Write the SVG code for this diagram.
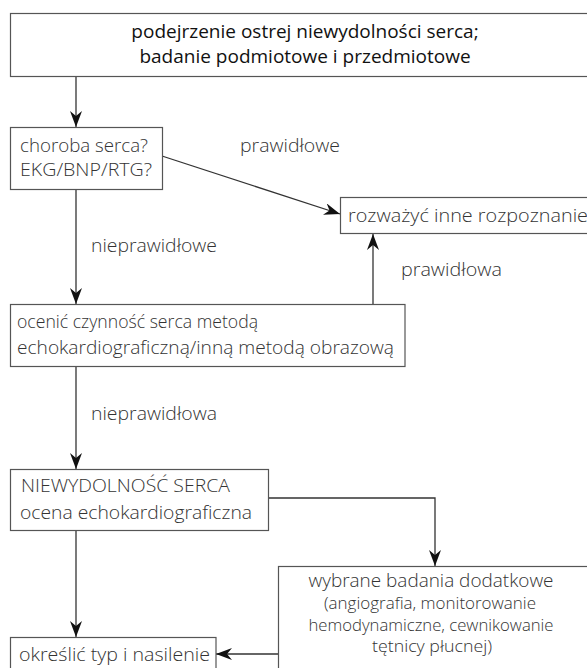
<svg xmlns="http://www.w3.org/2000/svg" width="587" height="668" viewBox="0 0 587 668">
  <style>
    .box { fill: #ffffff; stroke: #555555; stroke-width: 1.2; }
    .t { font-family: "Open Sans", "Liberation Sans", sans-serif; font-size: 18px; font-weight: 350; fill: #333333; }
    .title { font-family: "Open Sans", "Liberation Sans", sans-serif; font-size: 19px; font-weight: 500; fill: #111111; text-anchor: middle; }
    .small { font-size: 16px; }
    .mid { text-anchor: middle; }
    .edge { fill: none; stroke: #333333; stroke-width: 1.3; }
  </style>
  <defs>
    <marker id="arrow" viewBox="0 0 16 12" refX="16" refY="6" markerWidth="16" markerHeight="12" markerUnits="userSpaceOnUse" orient="auto">
      <path d="M0,0 L16,6 L0,12 L5,6 z" fill="#111111"/>
    </marker>
  </defs>
  <rect width="587" height="668" fill="#ffffff"/>

  <!-- connectors -->
  <g id="connectors">
    <path class="edge" d="M76,77 L76,127" marker-end="url(#arrow)"/>
    <path class="edge" d="M162,156 L340,214" marker-end="url(#arrow)"/>
    <path class="edge" d="M76,190 L76,304" marker-end="url(#arrow)"/>
    <path class="edge" d="M373,304 L373,234" marker-end="url(#arrow)"/>
    <path class="edge" d="M76,367 L76,469" marker-end="url(#arrow)"/>
    <path class="edge" d="M268,498 L435,498 L435,566" marker-end="url(#arrow)"/>
    <path class="edge" d="M76,531 L76,637" marker-end="url(#arrow)"/>
    <path class="edge" d="M278,654 L216,654" marker-end="url(#arrow)"/>
  </g>

  <!-- edge labels -->
  <g id="labels">
    <text class="t" x="240" y="152" textLength="100" lengthAdjust="spacingAndGlyphs">prawidłowe</text>
    <text class="t" x="91" y="252" textLength="126" lengthAdjust="spacingAndGlyphs">nieprawidłowe</text>
    <text class="t" x="401" y="276" textLength="101" lengthAdjust="spacingAndGlyphs">prawidłowa</text>
    <text class="t" x="91" y="420" textLength="126" lengthAdjust="spacingAndGlyphs">nieprawidłowa</text>
  </g>

  <g id="suspicion">
    <rect class="box" x="10.5" y="13.5" width="590" height="63"/>
    <text class="title" x="305" y="38">podejrzenie ostrej niewydolności serca;</text>
    <text class="title" x="305" y="63">badanie podmiotowe i przedmiotowe</text>
  </g>

  <g id="heart-disease">
    <rect class="box" x="10.5" y="127.5" width="152" height="62"/>
    <text class="t" x="20" y="152" textLength="128" lengthAdjust="spacingAndGlyphs">choroba serca?</text>
    <text class="t" x="20" y="176" textLength="132" lengthAdjust="spacingAndGlyphs">EKG/BNP/RTG?</text>
  </g>

  <g id="other-diagnosis">
    <rect class="box" x="340.5" y="197.5" width="260" height="36"/>
    <text class="t" x="348" y="222" textLength="240" lengthAdjust="spacingAndGlyphs">rozważyć inne rozpoznanie</text>
  </g>

  <g id="imaging">
    <rect class="box" x="10.5" y="304.5" width="394.5" height="62"/>
    <text class="t" x="17" y="328" textLength="241" lengthAdjust="spacingAndGlyphs">ocenić czynność serca metodą</text>
    <text class="t" x="17" y="354" textLength="377" lengthAdjust="spacingAndGlyphs">echokardiograficzną/inną metodą obrazową</text>
  </g>

  <g id="heart-failure">
    <rect class="box" x="10.5" y="469.5" width="258" height="61"/>
    <text class="t" x="21" y="492" textLength="209" lengthAdjust="spacingAndGlyphs">NIEWYDOLNOŚĆ SERCA</text>
    <text class="t" x="20" y="519" textLength="232" lengthAdjust="spacingAndGlyphs">ocena echokardiograficzna</text>
  </g>

  <g id="extra-tests">
    <rect class="box" x="278.5" y="566.5" width="320" height="110"/>
    <text class="t mid" x="431" y="587" textLength="245" lengthAdjust="spacingAndGlyphs">wybrane badania dodatkowe</text>
    <text class="t mid small" x="430" y="609" textLength="212" lengthAdjust="spacingAndGlyphs">(angiografia, monitorowanie</text>
    <text class="t mid small" x="431" y="631" textLength="245" lengthAdjust="spacingAndGlyphs">hemodynamiczne, cewnikowanie</text>
    <text class="t mid small" x="432" y="652" textLength="120" lengthAdjust="spacingAndGlyphs">tętnicy płucnej)</text>
  </g>

  <g id="type-severity">
    <rect class="box" x="10.5" y="637.5" width="205.5" height="40"/>
    <text class="t" x="19" y="661" textLength="191" lengthAdjust="spacingAndGlyphs">określić typ i nasilenie</text>
  </g>
</svg>
